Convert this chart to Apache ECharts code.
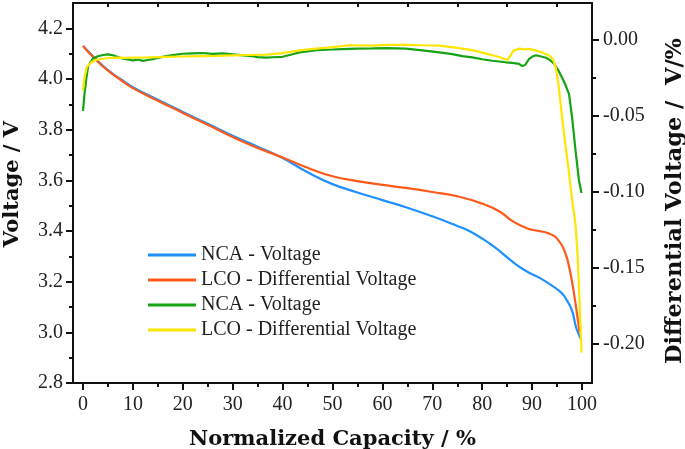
<!DOCTYPE html>
<html>
<head>
<meta charset="utf-8">
<script src="https://cdn.jsdelivr.net/npm/echarts@6/dist/echarts.min.js"></script>
<style>
  html, body { margin: 0; padding: 0; background: #fff; }
  #chart { width: 685px; height: 449px; }
</style>
</head>
<body>
<div id="chart"></div>
<script>
// NCA - voltage (left axis)
var ncaCap  = [0, 1, 2, 3, 5, 7.5, 10, 15, 20, 25, 30, 35, 40, 45, 50, 55, 60, 65, 70, 75, 77.4, 80, 82.7, 86, 88.7, 91.4, 94, 96, 97, 98, 98.8, 99.4, 99.7];
var ncaVolt = [4.13, 4.11, 4.09, 4.07, 4.035, 4.0, 3.968, 3.918, 3.87, 3.823, 3.776, 3.733, 3.688, 3.632, 3.585, 3.552, 3.522, 3.492, 3.458, 3.42, 3.40, 3.37, 3.333, 3.28, 3.243, 3.216, 3.184, 3.153, 3.125, 3.086, 3.02, 2.99, 2.975];

// LCO - voltage (left axis, legend says "Differential")
var lcoCap  = [0, 1, 2, 3, 5, 7.5, 10, 15, 20, 25, 30, 35, 40, 45, 50, 55, 60, 65, 70, 75, 80, 83.4, 86, 88.7, 90, 93.4, 95.4, 96.7, 97.5, 98, 98.8, 99.5];
var lcoVolt = [4.13, 4.108, 4.088, 4.068, 4.033, 3.997, 3.964, 3.914, 3.866, 3.819, 3.771, 3.728, 3.69, 3.65, 3.616, 3.597, 3.582, 3.569, 3.554, 3.537, 3.508, 3.478, 3.44, 3.413, 3.405, 3.39, 3.36, 3.31, 3.25, 3.20, 3.10, 3.0];

// NCA - differential voltage (right axis)
var ncaDiffCap = [0, 0.3, 0.7, 1, 1.5, 2, 3, 4, 5, 6, 7, 8, 9, 10, 11, 12, 13, 14, 15, 16.7, 18, 20, 22, 24, 26, 28, 30, 32, 34, 35, 36.7, 38, 40, 42, 43.4, 45, 46.7, 48, 50, 52, 55, 58, 61, 64.7, 68, 71.4, 74, 76, 78, 80, 82, 84.7, 86, 87.4, 88, 88.6, 89.4, 90.2, 90.8, 91.8, 92.8, 93.6, 94.4, 95.2, 96, 96.7, 97.4, 98, 98.7, 99.4, 99.9];
var ncaDiff    = [-0.047, -0.036, -0.025, -0.018, -0.015, -0.0125, -0.011, -0.0102, -0.0098, -0.0104, -0.0115, -0.0126, -0.0131, -0.0138, -0.0132, -0.0141, -0.0135, -0.0129, -0.0122, -0.011, -0.0103, -0.0094, -0.0091, -0.0089, -0.0095, -0.0091, -0.0098, -0.0105, -0.011, -0.0116, -0.012, -0.0117, -0.0114, -0.0097, -0.0085, -0.0078, -0.0071, -0.0068, -0.0066, -0.0063, -0.006, -0.0059, -0.0057, -0.006, -0.0072, -0.0085, -0.0096, -0.011, -0.0118, -0.013, -0.014, -0.015, -0.0154, -0.016, -0.0175, -0.0168, -0.0128, -0.011, -0.0104, -0.0112, -0.012, -0.0136, -0.016, -0.02, -0.025, -0.03, -0.036, -0.051, -0.073, -0.093, -0.101];

// LCO - differential voltage (right axis)
var lcoDiffCap = [0, 0.3, 0.8, 1.7, 2.5, 3.4, 5, 6.7, 8.5, 10, 13, 16.7, 20, 23.4, 27, 30, 33, 36.7, 40, 43.4, 46.7, 50, 53.4, 58, 61, 64.7, 68, 71.4, 75, 78, 81, 83.4, 85, 85.6, 86.2, 87.4, 88.5, 89.4, 91, 92, 93.4, 94.2, 94.7, 95.3, 96, 96.7, 97.4, 98, 98.7, 99.1, 99.4, 99.9];
var lcoDiff    = [-0.0335, -0.025, -0.018, -0.015, -0.0135, -0.013, -0.0122, -0.012, -0.0121, -0.012, -0.0118, -0.0115, -0.0112, -0.011, -0.0108, -0.0105, -0.0102, -0.01, -0.009, -0.0072, -0.006, -0.005, -0.0038, -0.004, -0.0035, -0.0035, -0.0038, -0.004, -0.0055, -0.007, -0.0095, -0.0115, -0.0135, -0.011, -0.0075, -0.006, -0.0065, -0.0062, -0.0075, -0.0085, -0.0105, -0.013, -0.018, -0.03, -0.051, -0.07, -0.088, -0.105, -0.122, -0.141, -0.163, -0.206];

// tick marks / labels
var capTicks      = [0, 10, 20, 30, 40, 50, 60, 70, 80, 90, 100];
var capMinorTicks = [5, 15, 25, 35, 45, 55, 65, 75, 85, 95];
var voltTicks      = [2.8, 3.0, 3.2, 3.4, 3.6, 3.8, 4.0, 4.2];
var voltMinorTicks = [2.9, 3.1, 3.3, 3.5, 3.7, 3.9, 4.1];
var diffTicks      = [-0.20, -0.15, -0.10, -0.05, 0.00];
var diffMinorTicks = [-0.175, -0.125, -0.075, -0.025];

var names  = ['NCA - Voltage', 'LCO - Differential Voltage', 'NCA - Voltage ', 'LCO - Differential Voltage '];
var colors = ['#1e90ff', '#ff5a1a', '#16a316', '#ffe600'];

var pairs = function(xs, ys) {
	var out = [];
	for (var i = 0; i < xs.length; i++) out.push([xs[i], ys[i]]);
	return out;
};

var serif = '"Liberation Serif", serif';
var titleFont = '"DejaVu Serif", "Liberation Serif", serif';
var black = '#111';
var xMin = -2, xMax = 102;
var vMin = 2.8, vMax = 4.3;
var dMin = -0.226, dMax = 0.024;

var chart = echarts.init(document.getElementById('chart'));

var tickStyle = { color: black, width: 2 };
var noLine = { show: false, onZero: false };
var labelStyle = { fontFamily: serif, fontSize: 20, color: '#222' };

var option = {
	animation: false,
	backgroundColor: '#fff',
	color: colors,
	grid: { left: 73, right: 93, top: 3, bottom: 66, containLabel: false, outerBoundsMode: 'none' },
	legend: {
		orient: 'vertical',
		left: 148, top: 245, padding: 0,
		itemWidth: 48, itemHeight: 3, itemGap: 5,
		icon: 'rect',
		textStyle: { fontFamily: serif, fontSize: 20, color: '#222', lineHeight: 20 },
		data: names
	},
	xAxis: [{
		type: 'value', position: 'bottom', min: xMin, max: xMax,
		name: 'Normalized Capacity / %', nameLocation: 'middle', nameGap: 46,
		nameTextStyle: { fontFamily: titleFont, fontSize: 21, fontWeight: 'bold', color: black },
		axisLine: { onZero: false, lineStyle: tickStyle },
		axisTick: { show: true, inside: false, length: 7, lineStyle: tickStyle, customValues: capTicks },
		axisLabel: Object.assign({ margin: 12, customValues: capTicks }, labelStyle),
		splitLine: { show: false }
	}, {
		type: 'value', position: 'bottom', min: xMin, max: xMax,
		axisLine: noLine,
		axisTick: { show: true, length: 4, lineStyle: tickStyle, customValues: capMinorTicks },
		axisLabel: { show: false },
		splitLine: { show: false }
	}, {
		type: 'value', position: 'top', min: xMin, max: xMax,
		axisLine: { show: true, onZero: false, lineStyle: tickStyle },
		axisTick: { show: true, inside: true, length: 4, lineStyle: tickStyle, customValues: capMinorTicks },
		axisLabel: { show: false },
		splitLine: { show: false }
	}],
	yAxis: [{
		type: 'value', position: 'left', min: vMin, max: vMax,
		name: 'Voltage / V', nameLocation: 'middle', nameGap: 50,
		nameTextStyle: { fontFamily: titleFont, fontSize: 21, fontWeight: 'bold', color: black, padding: [0, 0, 0, 18] },
		axisLine: { show: true, onZero: false, lineStyle: tickStyle },
		axisTick: { show: true, length: 7, lineStyle: tickStyle, customValues: voltTicks },
		axisLabel: Object.assign({ margin: 10, customValues: voltTicks,
			formatter: function(v) { return v.toFixed(1); } }, labelStyle),
		splitLine: { show: false }
	}, {
		type: 'value', position: 'right', min: dMin, max: dMax,
		name: 'Differential Voltage /  V/%', nameLocation: 'middle', nameGap: 72, nameRotate: 90,
		nameTextStyle: { fontFamily: titleFont, fontSize: 22.5, fontWeight: 'bold', color: black, padding: [0, 16, 0, 0] },
		axisLine: { show: true, onZero: false, lineStyle: tickStyle },
		axisTick: { show: true, length: 7, lineStyle: tickStyle, customValues: diffTicks },
		axisLabel: Object.assign({ margin: 11, customValues: diffTicks,
			formatter: function(v) { return v.toFixed(2); } }, labelStyle),
		splitLine: { show: false }
	}, {
		type: 'value', position: 'left', min: vMin, max: vMax,
		axisLine: noLine,
		axisTick: { show: true, length: 4, lineStyle: tickStyle, customValues: voltMinorTicks },
		axisLabel: { show: false },
		splitLine: { show: false }
	}, {
		type: 'value', position: 'right', min: dMin, max: dMax,
		axisLine: noLine,
		axisTick: { show: true, length: 4, lineStyle: tickStyle, customValues: diffMinorTicks },
		axisLabel: { show: false },
		splitLine: { show: false }
	}],
	series: [{
		name: names[0], type: 'line', xAxisIndex: 0, yAxisIndex: 0, showSymbol: false, smooth: true,
		lineStyle: { width: 2.2 }, data: pairs(ncaCap, ncaVolt)
	}, {
		name: names[1], type: 'line', xAxisIndex: 0, yAxisIndex: 0, showSymbol: false, smooth: true,
		lineStyle: { width: 2.2 }, data: pairs(lcoCap, lcoVolt)
	}, {
		name: names[2], type: 'line', xAxisIndex: 0, yAxisIndex: 1, showSymbol: false,
		lineStyle: { width: 2.2 }, data: pairs(ncaDiffCap, ncaDiff)
	}, {
		name: names[3], type: 'line', xAxisIndex: 0, yAxisIndex: 1, showSymbol: false,
		lineStyle: { width: 2.2 }, data: pairs(lcoDiffCap, lcoDiff)
	}]
};

chart.setOption(option);
</script>
</body>
</html>
